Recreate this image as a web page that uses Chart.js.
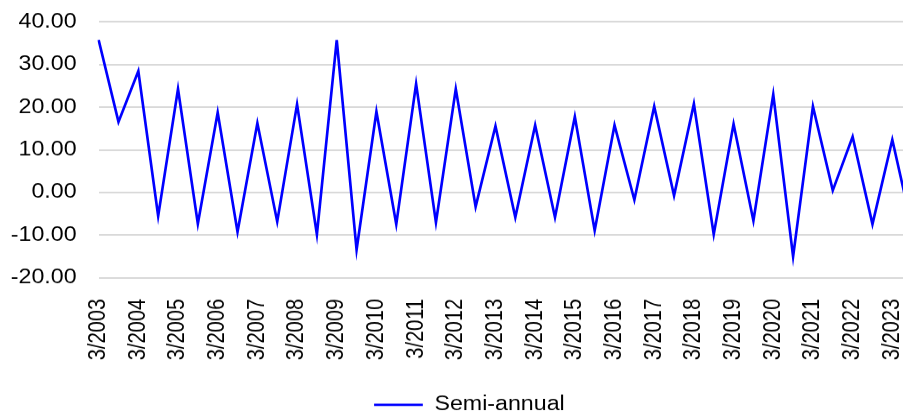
<!DOCTYPE html>
<html>
<head>
<meta charset="utf-8">
<script src="https://cdn.jsdelivr.net/npm/chart.js@4/dist/chart.umd.min.js"></script>
<style>
  html, body { margin: 0; padding: 0; background: #fff; overflow: hidden; }
  #wrap { width: 903px; height: 417px; overflow: hidden; position: relative; }
  #c { display: block; }
</style>
</head>
<body>
<div id="wrap">
  <canvas id="c" width="810" height="417" style="width:940px;height:417px"></canvas>
</div>
<script>
// Half-year periods, March and September of each year
const periods = [
  "3/2003", "9/2003", "3/2004", "9/2004", "3/2005", "9/2005", "3/2006", "9/2006",
  "3/2007", "9/2007", "3/2008", "9/2008", "3/2009", "9/2009", "3/2010", "9/2010",
  "3/2011", "9/2011", "3/2012", "9/2012", "3/2013", "9/2013", "3/2014", "9/2014",
  "3/2015", "9/2015", "3/2016", "9/2016", "3/2017", "9/2017", "3/2018", "9/2018",
  "3/2019", "9/2019", "3/2020", "9/2020", "3/2021", "9/2021", "3/2022", "9/2022",
  "3/2023", "9/2023"
];

// Semi-annual values
const semiAnnual = [
  35.8, 16.6, 28.5, -5.5, 24.3, -7.3, 18.8, -9.2,
  16.3, -6.8, 20.7, -9.8, 35.8, -13.4, 19.0, -7.4,
  25.5, -7.0, 24.3, -3.3, 15.6, -5.8, 15.8, -5.8,
  17.8, -8.9, 15.8, -1.7, 20.2, -0.7, 20.8, -9.8,
  16.1, -6.6, 23.0, -15.0, 20.2, 0.5, 13.1, -7.4,
  12.4, -8.3
];

// Value axis range and step
const yMin = -20;
const yMax = 40;
const yStep = 10;

const font = { family: "'Liberation Sans', Arial, sans-serif", size: 20 };

// Nudge the legend to the right of the centred position
const legendShift = {
  id: 'legendShift',
  afterLayout(chart) {
    chart.legend.left += 7;
    chart.legend.right += 7;
  }
};

new Chart(document.getElementById('c'), {
  type: 'line',
  data: {
    labels: periods,
    datasets: [{
      label: 'Semi-annual',
      data: semiAnnual,
      borderColor: '#0000ff',
      backgroundColor: '#0000ff',
      borderWidth: 2.3,
      tension: 0,
      pointRadius: 0,
      pointHoverRadius: 0,
      pointStyle: 'line',
      fill: false
    }]
  },
  plugins: [legendShift],
  options: {
    responsive: false,
    devicePixelRatio: 940 / 810,
    animation: false,
    events: [],
    layout: { padding: { left: 9, right: 24, top: 22, bottom: -7 } },
    plugins: {
      tooltip: { enabled: false },
      legend: {
        position: 'bottom',
        labels: {
          usePointStyle: true,
          pointStyle: 'line',
          pointStyleWidth: 42,
          boxHeight: 20,
          padding: 6,
          color: '#000',
          font: font
        }
      }
    },
    scales: {
      x: {
        grid: { display: false },
        border: { display: false },
        ticks: {
          autoSkip: false,
          minRotation: 90,
          maxRotation: 90,
          padding: 13,
          color: '#000',
          font: font,
          callback: function (value, index) {
            return index % 2 === 0 ? this.getLabelForValue(value) : '';
          }
        },
        afterFit: function (scale) {
          scale.height = 110.7;
          scale.paddingLeft = 0;
          scale.paddingRight = 0;
        }
      },
      y: {
        min: yMin,
        max: yMax,
        grid: { color: '#d9d9d9', lineWidth: 1.8, drawTicks: false },
        border: { display: false },
        ticks: {
          stepSize: yStep,
          padding: 19,
          color: '#000',
          font: font,
          callback: (v) => Number(v).toFixed(2)
        },
        afterFit: function (scale) {
          scale.width = 76;
          scale.paddingTop = 0;
          scale.paddingBottom = 0;
        }
      }
    }
  }
});
</script>
</body>
</html>
